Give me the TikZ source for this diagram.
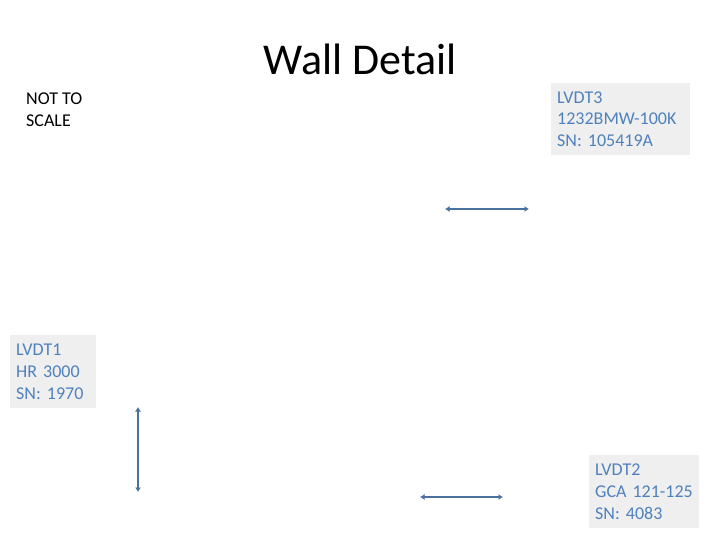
\documentclass[tikz,border=0pt]{standalone}
\usepackage{fontspec}
\setmainfont{Carlito}
\usetikzlibrary{arrows.meta}
\definecolor{lbltext}{RGB}{79,129,189}
\definecolor{lblfill}{RGB}{239,239,239}
\definecolor{arrowcol}{RGB}{74,112,158}
\tikzset{
  lbox/.style={fill=lblfill, draw=none, anchor=north west, inner sep=0pt,
    text=lbltext, align=left, font=\fontsize{18}{21.6}\selectfont},
  dimline/.style={draw=arrowcol, line width=2pt,
    {Latex[length=4.5pt,width=6pt]}-{Latex[length=4.5pt,width=6pt]}}
}
\frenchspacing
\begin{document}
\begin{tikzpicture}[x=1pt,y=-1pt]
\useasboundingbox (0,0) rectangle (720,540);
\node[anchor=base, font=\fontsize{44}{52}\selectfont] (title) at (360,75) {Wall Detail};
\node[anchor=north west, inner sep=0pt, align=left, font=\fontsize{18}{21.6}\selectfont] (nts) at (26,93) {NOT TO\\SCALE};
% boxes
\node[lbox, minimum width=139pt, minimum height=72pt, text width=139pt] (b3) at (551,83) {\hspace*{6pt}LVDT3\\\hspace*{6pt}1232BMW-100K\\\hspace*{6pt}SN: 105419A};
\node[lbox, minimum width=86pt, minimum height=73pt, text width=86pt] (b1) at (10,335) {\hspace*{6pt}LVDT1\\\hspace*{6pt}HR 3000\\\hspace*{6pt}SN: 1970};
\node[lbox, minimum width=110pt, minimum height=73pt, text width=110pt] (b2) at (589,455) {\hspace*{6pt}LVDT2\\\hspace*{6pt}GCA 121-125\\\hspace*{6pt}SN: 4083};
% dimension lines
\coordinate (a3l) at (445,209);
\coordinate (a3r) at (529,209);
\coordinate (a1t) at (138,407);
\coordinate (a1b) at (138,492);
\coordinate (a2l) at (420,497);
\coordinate (a2r) at (503,497);
\draw[dimline] (a3l) -- (a3r);
\draw[dimline] (a1t) -- (a1b);
\draw[dimline] (a2l) -- (a2r);
\end{tikzpicture}
\end{document}
